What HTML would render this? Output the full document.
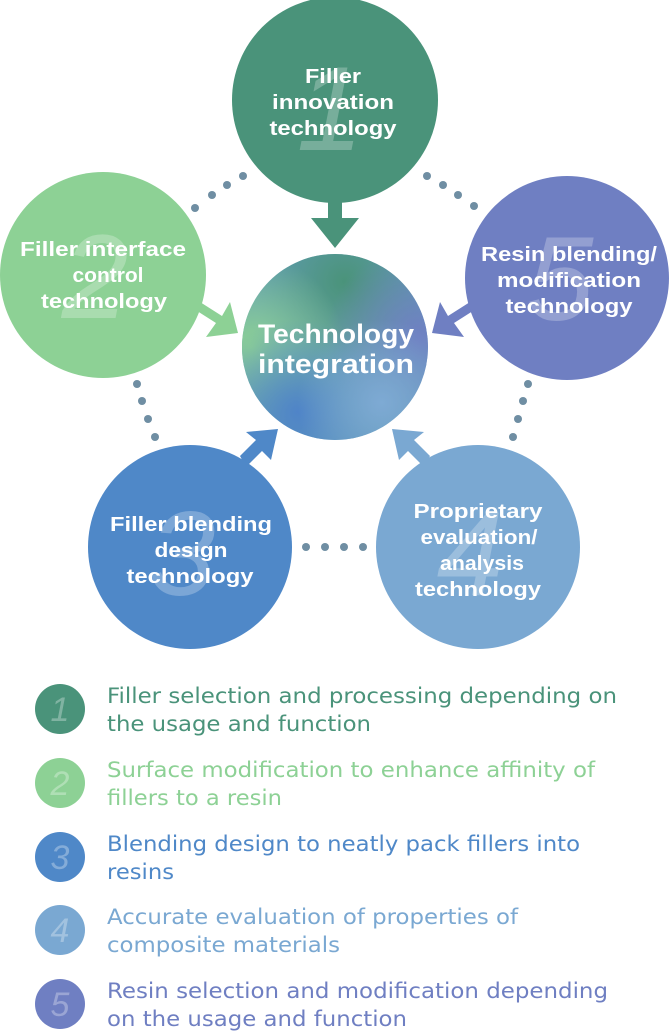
<!DOCTYPE html>
<html><head><meta charset="utf-8"><style>
body{margin:0;background:#fff}
svg{display:block}
text{font-family:"DejaVu Sans","Liberation Sans",sans-serif}
.w{fill:#fff;font-weight:bold;font-size:20.5px;text-anchor:middle;font-family:"Liberation Sans",sans-serif}
.n{fill:#fff;fill-opacity:.25;font-style:italic;font-size:120px;text-anchor:middle;font-family:"Liberation Sans",sans-serif}
.l{font-size:21.5px}
.ln{fill:#fff;fill-opacity:.3;font-style:italic;font-size:34px;text-anchor:middle;font-family:"Liberation Sans",sans-serif}
</style></head><body>
<svg width="670" height="1036" viewBox="0 0 670 1036">
<defs>
<radialGradient id="g" cx="0.5" cy="0.5" r="0.6">
<stop offset="0" stop-color="#6fa8a8"/><stop offset="1" stop-color="#5f9ab8"/>
</radialGradient>
<radialGradient id="ga" cx="0.55" cy="0.15" r="0.5"><stop offset="0" stop-color="#4a937a"/><stop offset="1" stop-color="#4a937a" stop-opacity="0"/></radialGradient>
<radialGradient id="gb" cx="0.05" cy="0.5" r="0.5"><stop offset="0" stop-color="#8dd195"/><stop offset="1" stop-color="#8dd195" stop-opacity="0"/></radialGradient>
<radialGradient id="gc" cx="0.95" cy="0.45" r="0.5"><stop offset="0" stop-color="#6f7fc2"/><stop offset="1" stop-color="#6f7fc2" stop-opacity="0"/></radialGradient>
<radialGradient id="gd" cx="0.3" cy="0.85" r="0.5"><stop offset="0" stop-color="#4f84c8"/><stop offset="1" stop-color="#4f84c8" stop-opacity="0"/></radialGradient>
<radialGradient id="ge" cx="0.75" cy="0.8" r="0.45"><stop offset="0" stop-color="#7eaad4"/><stop offset="1" stop-color="#7eaad4" stop-opacity="0"/></radialGradient>
</defs>
<g fill="#6f8ea3">
<circle cx="195" cy="208" r="4"/><circle cx="212" cy="195" r="4"/><circle cx="227" cy="185" r="4"/><circle cx="243" cy="176" r="4"/>
<circle cx="427" cy="176" r="4"/><circle cx="443" cy="185" r="4"/><circle cx="458" cy="195" r="4"/><circle cx="474" cy="206" r="4"/>
<circle cx="137" cy="384" r="4"/><circle cx="142" cy="401" r="4"/><circle cx="148" cy="419" r="4"/><circle cx="155" cy="437" r="4"/>
<circle cx="528" cy="384" r="4"/><circle cx="523" cy="401" r="4"/><circle cx="518" cy="419" r="4"/><circle cx="513" cy="437" r="4"/>
<circle cx="306" cy="547" r="4"/><circle cx="325" cy="547" r="4"/><circle cx="344" cy="547" r="4"/><circle cx="363" cy="547" r="4"/>
</g>
<circle cx="335" cy="347" r="93" fill="url(#g)"/>
<circle cx="335" cy="347" r="93" fill="url(#ga)"/>
<circle cx="335" cy="347" r="93" fill="url(#gb)"/>
<circle cx="335" cy="347" r="93" fill="url(#gc)"/>
<circle cx="335" cy="347" r="93" fill="url(#gd)"/>
<circle cx="335" cy="347" r="93" fill="url(#ge)"/>
<text x="336" y="343" class="w" style="font-size:27px" textLength="156" lengthAdjust="spacingAndGlyphs">Technology</text>
<text x="336" y="373" class="w" style="font-size:27px" textLength="156" lengthAdjust="spacingAndGlyphs">integration</text>
<path d="M328 195h14v23h17l-24 30l-24-30h17z" fill="#4a937a"/>
<path d="M200 302l22 14l8-14l8 31l-32 4l10-14l-22-14z" fill="#8dd195"/>
<path d="M470 302l-22 14l-8-14l-8 31l32 4l-10-14l22-14z" fill="#6f7fc2"/>
<path d="M240 456l16-16l-10-8l32-3l-7 31l-9-9l-16 16z" fill="#4f88c8"/>
<path d="M430 456l-16-16l10-8l-32-3l7 31l9-9l16 16z" fill="#7aa8d2"/>
<circle cx="335" cy="100" r="103" fill="#4a937a"/><text x="330" y="150" class="n">1</text>
<text x="333" y="83" class="w" textLength="56" lengthAdjust="spacingAndGlyphs">Filler</text><text x="333" y="109" class="w" textLength="122" lengthAdjust="spacingAndGlyphs">innovation</text><text x="333" y="135" class="w" textLength="127" lengthAdjust="spacingAndGlyphs">technology</text>
<circle cx="103" cy="275" r="103" fill="#8dd195"/><text x="95" y="318" class="n">2</text>
<text x="103" y="256" class="w" textLength="166" lengthAdjust="spacingAndGlyphs">Filler interface</text><text x="108" y="282" class="w" textLength="71" lengthAdjust="spacingAndGlyphs">control</text><text x="104" y="308" class="w" textLength="126" lengthAdjust="spacingAndGlyphs">technology</text>
<circle cx="567" cy="278" r="102" fill="#6f7fc2"/><text x="560" y="320" class="n">5</text>
<text x="569" y="261" class="w" textLength="176" lengthAdjust="spacingAndGlyphs">Resin blending/</text><text x="569" y="287" class="w" textLength="144" lengthAdjust="spacingAndGlyphs">modification</text><text x="569" y="313" class="w" textLength="127" lengthAdjust="spacingAndGlyphs">technology</text>
<circle cx="190" cy="547" r="102" fill="#4f88c8"/><text x="182" y="595" class="n">3</text>
<text x="191" y="531" class="w" textLength="162" lengthAdjust="spacingAndGlyphs">Filler blending</text><text x="191" y="557" class="w" textLength="73" lengthAdjust="spacingAndGlyphs">design</text><text x="190" y="583" class="w" textLength="127" lengthAdjust="spacingAndGlyphs">technology</text>
<circle cx="478" cy="547" r="102" fill="#7aa8d2"/><text x="470" y="595" class="n">4</text>
<text x="478" y="518" class="w" textLength="129" lengthAdjust="spacingAndGlyphs">Proprietary</text><text x="479" y="544" class="w" textLength="117" lengthAdjust="spacingAndGlyphs">evaluation/</text><text x="482" y="570" class="w" textLength="84" lengthAdjust="spacingAndGlyphs">analysis</text><text x="478" y="596" class="w" textLength="126" lengthAdjust="spacingAndGlyphs">technology</text>
<circle cx="60" cy="709" r="25" fill="#4a937a"/><text x="60" y="721" class="ln">1</text>
<text x="107" y="703" class="l" fill="#4a937a" textLength="510" lengthAdjust="spacingAndGlyphs">Filler selection and processing depending on</text>
<text x="107" y="731" class="l" fill="#4a937a" textLength="264" lengthAdjust="spacingAndGlyphs">the usage and function</text>
<circle cx="60" cy="783" r="25" fill="#8dd195"/><text x="60" y="795" class="ln">2</text>
<text x="107" y="777" class="l" fill="#8dd195" textLength="488" lengthAdjust="spacingAndGlyphs">Surface modification to enhance affinity of</text>
<text x="107" y="805" class="l" fill="#8dd195" textLength="175" lengthAdjust="spacingAndGlyphs">fillers to a resin</text>
<circle cx="60" cy="857" r="25" fill="#4f88c8"/><text x="60" y="869" class="ln">3</text>
<text x="107" y="851" class="l" fill="#4f88c8" textLength="473" lengthAdjust="spacingAndGlyphs">Blending design to neatly pack fillers into</text>
<text x="107" y="879" class="l" fill="#4f88c8" textLength="67" lengthAdjust="spacingAndGlyphs">resins</text>
<circle cx="60" cy="930" r="25" fill="#7aa8d2"/><text x="60" y="942" class="ln">4</text>
<text x="107" y="924" class="l" fill="#7aa8d2" textLength="411" lengthAdjust="spacingAndGlyphs">Accurate evaluation of properties of</text>
<text x="107" y="952" class="l" fill="#7aa8d2" textLength="233" lengthAdjust="spacingAndGlyphs">composite materials</text>
<circle cx="60" cy="1004" r="25" fill="#6f7fc2"/><text x="60" y="1016" class="ln">5</text>
<text x="107" y="998" class="l" fill="#6f7fc2" textLength="501" lengthAdjust="spacingAndGlyphs">Resin selection and modification depending</text>
<text x="107" y="1026" class="l" fill="#6f7fc2" textLength="300" lengthAdjust="spacingAndGlyphs">on the usage and function</text>
</svg>
</body></html>
